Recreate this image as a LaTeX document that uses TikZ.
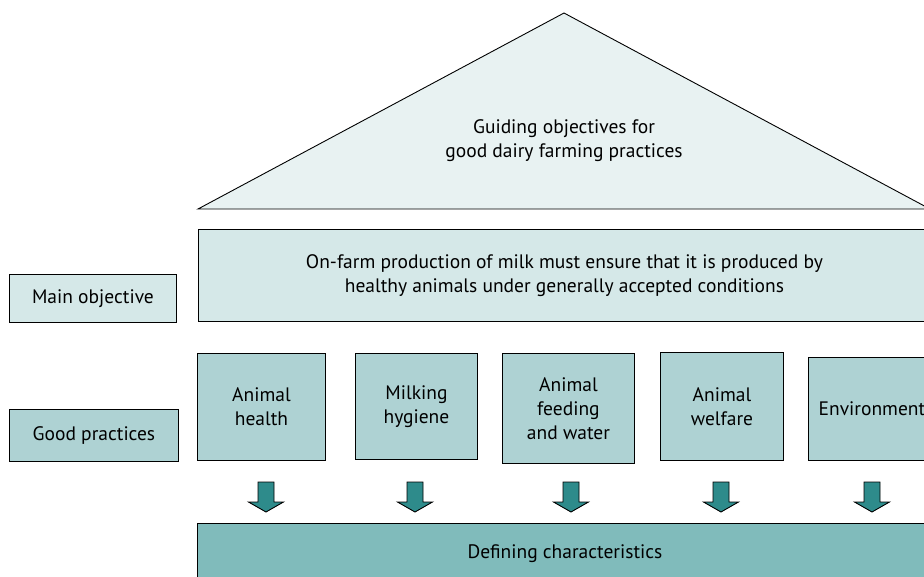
\documentclass[tikz,border=0pt]{standalone}
\usepackage{fontspec}
\setmainfont{PT Sans}
\definecolor{trifill}{HTML}{E8F2F2}
\definecolor{lightbox}{HTML}{D5E8E8}
\definecolor{midbox}{HTML}{AED2D3}
\definecolor{darkbox}{HTML}{80BBBB}
\definecolor{arrowfill}{HTML}{2E8B8B}
\tikzset{
  txt/.style={font=\fontsize{19.5}{24}\selectfont, align=center, text=black},
  boxbase/.style={draw=black, line width=0.9pt, rectangle, inner sep=0pt, txt},
  lbox/.style={boxbase, fill=lightbox},
  pbox/.style={boxbase, fill=midbox},
  dbox/.style={boxbase, fill=darkbox},
  blockarrow/.style={draw=black, line width=0.9pt, fill=arrowfill, line join=miter},
}
\begin{document}
\begin{tikzpicture}[x=1pt,y=-1pt]
\useasboundingbox (0,0) rectangle (924,576);
\clip (0,0) rectangle (924,576);
% roof
\coordinate (apex) at (564,13);
\coordinate (bl) at (198,209);
\coordinate (br) at (930,209);
\draw[line width=0.9pt, fill=trifill, line join=miter] (bl) -- (apex) -- (br) -- cycle;
\node[txt] (guide) at (564,141) {Guiding objectives for\\good dairy farming practices};
% main objective
\node[lbox, minimum width=732pt, minimum height=92pt, anchor=north west] (banner) at (198,229)
  {On-farm production of milk must ensure that it is produced by\\healthy animals under generally accepted conditions};
\node[lbox, minimum width=167pt, minimum height=48pt, anchor=north west] (mainobj) at (9,274) {Main objective};
% good practices
\node[pbox, minimum width=169pt, minimum height=52pt, anchor=north west] (goodp) at (9,409) {Good practices};
\node[pbox, minimum width=128pt, minimum height=107pt, anchor=north west] (p1) at (197,353) {Animal\\health};
\node[pbox, minimum width=122pt, minimum height=106pt, anchor=north west] (p2) at (355,353) {Milking\\hygiene};
\node[pbox, minimum width=132pt, minimum height=110pt, anchor=north west] (p3) at (502,353) {Animal\\feeding\\and water};
\node[pbox, minimum width=123pt, minimum height=108pt, anchor=north west] (p4) at (660,352) {Animal\\welfare};
\node[pbox, minimum width=127pt, minimum height=103pt, anchor=north west] (p5) at (808,357) {Environment};
% defining characteristics
\node[dbox, minimum width=735pt, minimum height=60pt, anchor=north west] (defc) at (197,523) {Defining characteristics};
% block arrows
\foreach \n/\x in {1/266,2/415,3/571,4/721,5/872}{
  \coordinate (a\n) at (\x,482);
  \draw[blockarrow] (a\n) ++(-8,0) -- ++(16,0) -- ++(0,20) -- ++(9.5,0) -- ++(-17.5,10) -- ++(-17.5,-10) -- ++(9.5,0) -- cycle;
}
\end{tikzpicture}
\end{document}
